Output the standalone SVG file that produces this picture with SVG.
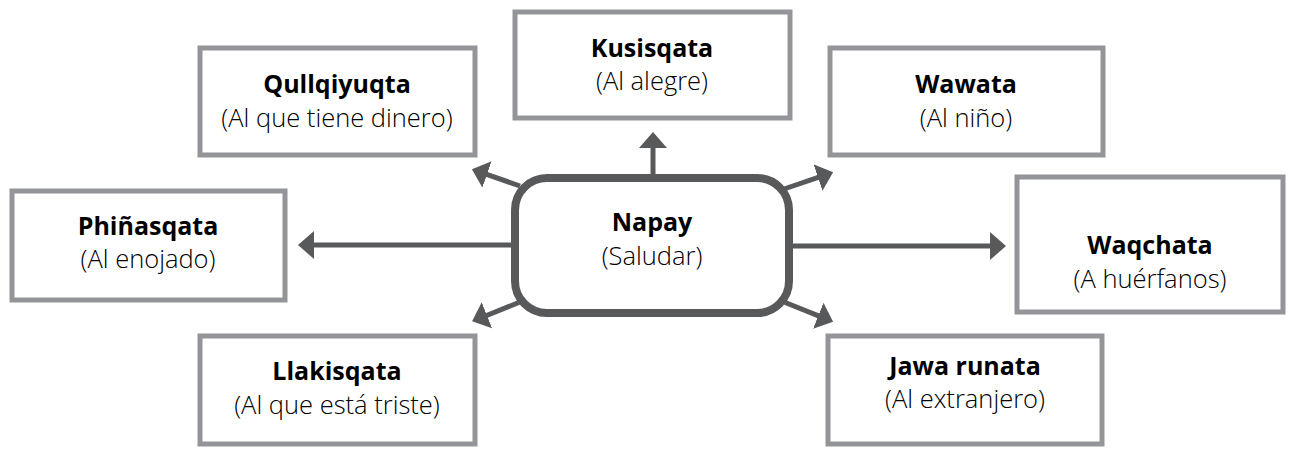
<svg xmlns="http://www.w3.org/2000/svg" width="1295" height="450" viewBox="0 0 1295 450">
<style>
.box{fill:#fff;stroke:#939598;stroke-width:5}
.hub{fill:#fff;stroke:#58595b;stroke-width:8}
.t{font-family:"Open Sans","Liberation Sans",sans-serif;text-anchor:middle;fill:#000}
.b{font-weight:700;font-size:25px}
.s{font-weight:300;font-size:25.5px}
.c line{stroke:#58595b;stroke-width:5;marker-end:url(#ah)}
</style>
<defs>
<marker id="ah" viewBox="0 0 16 28" refX="5" refY="14" markerWidth="16" markerHeight="28" markerUnits="userSpaceOnUse" orient="auto">
<path d="M0,0 L16,14 L0,28 Z" fill="#58595b"/>
</marker>
</defs>
<g class="c" id="connectors">
<line x1="653" y1="176" x2="653" y2="143"/>
<line x1="513" y1="245" x2="309" y2="245"/>
<line x1="791" y1="246" x2="995" y2="246"/>
<line x1="520" y1="186" x2="482.3" y2="172.8"/>
<line x1="520" y1="302" x2="482.3" y2="317.2"/>
<line x1="784" y1="189" x2="822.7" y2="175.9"/>
<line x1="784" y1="302" x2="822.9" y2="317.6"/>
</g>
<g id="n-napay">
<rect class="hub" x="515" y="178" width="274" height="135" rx="32"/>
<text class="t b" x="652" y="231">Napay</text>
<text class="t s" x="652" y="265">(Saludar)</text>
</g>
<g id="n-kusisqata">
<rect class="box" x="515" y="12" width="275" height="106"/>
<text class="t b" x="652" y="57">Kusisqata</text>
<text class="t s" x="652" y="90">(Al alegre)</text>
</g>
<g id="n-qullqiyuqta">
<rect class="box" x="200" y="48" width="275" height="107"/>
<text class="t b" x="337" y="93">Qullqiyuqta</text>
<text class="t s" x="337" y="127">(Al que tiene dinero)</text>
</g>
<g id="n-wawata">
<rect class="box" x="830" y="48" width="273" height="107"/>
<text class="t b" x="966" y="93">Wawata</text>
<text class="t s" x="966" y="127">(Al niño)</text>
</g>
<g id="n-phinasqata">
<rect class="box" x="12" y="191" width="273" height="109"/>
<text class="t b" x="148" y="235">Phiñasqata</text>
<text class="t s" x="148" y="268">(Al enojado)</text>
</g>
<g id="n-waqchata">
<rect class="box" x="1017" y="177" width="266" height="135"/>
<text class="t b" x="1150" y="254">Waqchata</text>
<text class="t s" x="1150" y="288">(A huérfanos)</text>
</g>
<g id="n-llakisqata">
<rect class="box" x="200" y="336" width="275" height="108"/>
<text class="t b" x="337" y="380">Llakisqata</text>
<text class="t s" x="337" y="414">(Al que está triste)</text>
</g>
<g id="n-jawa">
<rect class="box" x="828" y="336" width="274" height="108"/>
<text class="t b" x="965" y="375">Jawa runata</text>
<text class="t s" x="965" y="408">(Al extranjero)</text>
</g>
</svg>
